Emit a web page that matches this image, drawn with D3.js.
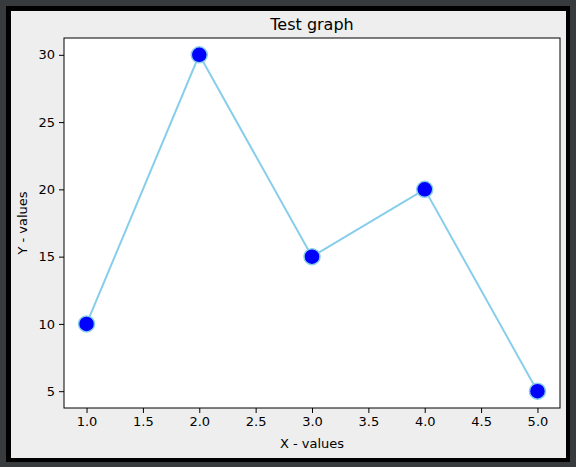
<!DOCTYPE html>
<html><head><meta charset="utf-8">
<script src="https://cdn.jsdelivr.net/npm/d3@7"></script>
<style>html,body{margin:0;padding:0;background:#373b3e;}svg{display:block;font-family:"DejaVu Sans",sans-serif;}</style>
</head><body>
<script>
const xValues = [1, 2, 3, 4, 5];
const yValues = [10, 30, 15, 20, 5];
const xTicks = [1.0, 1.5, 2.0, 2.5, 3.0, 3.5, 4.0, 4.5, 5.0];
const yTicks = [5, 10, 15, 20, 25, 30];

const W = 576, H = 467;
const svg = d3.select("body").append("svg").attr("width", W).attr("height", H);
svg.append("rect").attr("x",0).attr("y",0).attr("width",W).attr("height",H).attr("fill","#373b3e");
svg.append("rect").attr("x",6).attr("y",6).attr("width",564).attr("height",456).attr("fill","#000");
svg.append("rect").attr("x",11).attr("y",11).attr("width",555).attr("height",447).attr("fill","#eeeeee");

const L = 64, T = 38, R = 560, B = 408;
const x = d3.scaleLinear().domain([0.8, 5.2]).range([L, R]);
const y = d3.scaleLinear().domain([3.75, 31.25]).range([B, T]);

svg.append("rect").attr("x",L).attr("y",T).attr("width",R-L).attr("height",B-T).attr("fill","#fff");

const line = d3.line().x((d,i)=>x(xValues[i])).y(d=>y(d));
svg.append("path").datum(yValues).attr("d", line).attr("fill","none").attr("stroke","#87ceeb").attr("stroke-width",2);
svg.selectAll("circle.pt").data(yValues).enter().append("circle")
  .attr("cx",(d,i)=>x(xValues[i])).attr("cy",d=>y(d)).attr("r",8)
  .attr("fill","#0000ff").attr("stroke","#87ceeb").attr("stroke-width",1.5);

svg.append("rect").attr("x",L).attr("y",T).attr("width",R-L).attr("height",B-T).attr("fill","none").attr("stroke","#000").attr("stroke-width",1);

const xAxis = svg.append("g").attr("transform",`translate(0,${B})`)
  .call(d3.axisBottom(x).tickValues(xTicks).tickFormat(d3.format(".1f")).tickSizeInner(5).tickSizeOuter(0).tickPadding(4));
const yAxis = svg.append("g").attr("transform",`translate(${L},0)`)
  .call(d3.axisLeft(y).tickValues(yTicks).tickFormat(d3.format("d")).tickSizeInner(5).tickSizeOuter(0).tickPadding(4));
[xAxis, yAxis].forEach(g=>{
  g.select(".domain").remove();
  g.selectAll("text").attr("font-size","13px").attr("fill","#000").attr("font-family","DejaVu Sans");
  g.selectAll("line").attr("stroke","#000");
});

svg.append("text").attr("x",(L+R)/2).attr("y",30).attr("text-anchor","middle").attr("font-size","16px").text("Test graph");
svg.append("text").attr("x",(L+R)/2).attr("y",448).attr("text-anchor","middle").attr("font-size","13px").text("X - values");
svg.append("text").attr("transform",`translate(27,${(T+B)/2}) rotate(-90)`).attr("text-anchor","middle").attr("font-size","13px").text("Y - values");
</script>
</body></html>
